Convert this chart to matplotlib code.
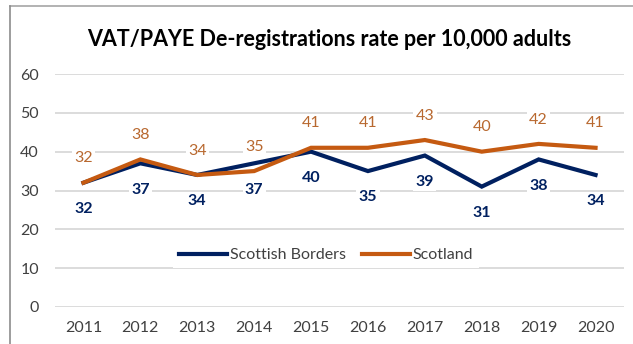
import matplotlib
matplotlib.use("Agg")
import matplotlib.pyplot as plt
from matplotlib.lines import Line2D

years = ["2011", "2012", "2013", "2014", "2015", "2016", "2017", "2018", "2019", "2020"]
borders = [32, 37, 34, 37, 40, 35, 39, 31, 38, 34]
scotland = [32, 38, 34, 35, 41, 41, 43, 40, 42, 41]
y_ticks = [0, 10, 20, 30, 40, 50, 60]

NAVY = "#002060"
ORANGE = "#C55A11"
ORANGE_TXT = "#B8682F"
GRID = "#D9D9D9"
TICK_TXT = "#404040"

plt.rcParams["font.family"] = ["Lato", "DejaVu Sans"]

fig = plt.figure(figsize=(6.33, 3.44), dpi=100)
ax = fig.add_axes([55 / 633, 37 / 344, 569 / 633, 233 / 344])

x = list(range(len(years)))
ax.plot(x, borders, color=NAVY, lw=3.0, solid_joinstyle="miter", label="Scottish Borders", zorder=3)
ax.plot(x, scotland, color=ORANGE, lw=3.0, solid_joinstyle="miter", label="Scotland", zorder=4)

box = dict(boxstyle="square,pad=0.15", fc="white", ec="none")
for xi, v in zip(x, borders):
    ax.annotate(str(v), (xi, v), xytext=(0, -19), textcoords="offset points",
                ha="center", va="center", fontsize=11.5, fontweight="bold",
                color=NAVY, bbox=box, zorder=2)
for xi, v in zip(x, scotland):
    ax.annotate(str(v), (xi, v), xytext=(0, 17.5), textcoords="offset points",
                ha="center", va="center", fontsize=11.5,
                color=ORANGE_TXT, bbox=box, zorder=2)

ax.set_xlim(-0.5, len(years) - 0.5)
ax.set_ylim(0, 60)
ax.set_yticks(y_ticks)
ax.set_xticks(x)
ax.set_xticklabels(years)
ax.grid(axis="y", color=GRID, lw=1.3, zorder=0)
ax.set_axisbelow(True)
for s in ax.spines.values():
    s.set_visible(False)
ax.tick_params(axis="both", length=0, labelsize=11.5, labelcolor=TICK_TXT)
ax.tick_params(axis="y", pad=11.5)
ax.tick_params(axis="x", pad=10)

leg = ax.legend(loc="center", bbox_to_anchor=(326 / 633, 1 - 255 / 344),
                bbox_transform=fig.transFigure, ncol=2, frameon=True,
                fontsize=11.5, handlelength=3.0, handletextpad=0.15,
                columnspacing=1.0, borderpad=0.4, fancybox=False)
leg.get_frame().set_edgecolor("none")
leg.get_frame().set_facecolor("white")
leg.get_frame().set_alpha(1)
for t in leg.get_texts():
    t.set_color(TICK_TXT)
leg.set_zorder(5)

fig.text(329 / 633, 1 - 40 / 344, "VAT/PAYE De-registrations rate per 10,000 adults",
         ha="center", va="center", fontsize=15.5, fontweight="bold", color="black")

# outer chart frame (top and left edges)
fig.add_artist(Line2D([10 / 633, 1], [1 - 6 / 344, 1 - 6 / 344], transform=fig.transFigure,
                      color="#A6A6A6", lw=1.2))
fig.add_artist(Line2D([10 / 633, 10 / 633], [0, 1 - 6 / 344], transform=fig.transFigure,
                      color="#8C8C8C", lw=1.2))

fig.savefig("out.png", dpi=100)
